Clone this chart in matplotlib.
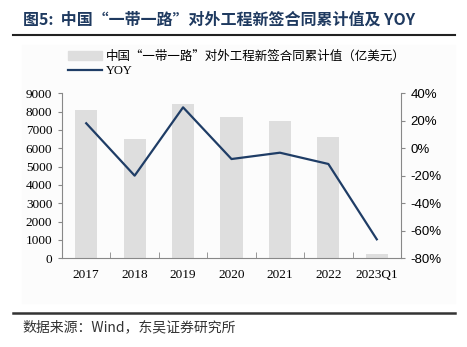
import matplotlib
matplotlib.use("Agg")
import matplotlib.pyplot as plt
import numpy as np
from matplotlib.lines import Line2D
from matplotlib.patches import Patch
from matplotlib.ticker import FixedLocator, FuncFormatter

plt.rcParams['font.family'] = ['Liberation Serif', 'Noto Sans CJK SC', 'DejaVu Sans']

years = ["2017", "2018", "2019", "2020", "2021", "2022", "2023Q1"]
contract_value = [8090, 6490, 8400, 7725, 7490, 6635, 220]
yoy = [18.2, -19.9, 29.8, -7.8, -3.2, -11.4, -66.2]

title = "图5:  中国“一带一路”对外工程新签合同累计值及 YOY"
bar_label = "中国“一带一路”对外工程新签合同累计值（亿美元）"
line_label = "YOY"
source = "数据来源：Wind，东吴证券研究所"

W, H = 467, 347
fig = plt.figure(figsize=(W / 100, H / 100), dpi=100)

# faint panel behind the chart
panel = plt.Rectangle((22 / W, 1 - 303 / H), 433 / W, 258 / H,
                      transform=fig.transFigure, color="#fcfcfc", zorder=-10)
fig.add_artist(panel)

ax = fig.add_axes([62 / W, 1 - 258.3 / H, (401 - 62) / W, (258.3 - 93.3) / H])
ax.patch.set_alpha(0)
x = np.arange(len(years))
ax.bar(x, contract_value, width=0.46, color="#dedede", zorder=1)
ax.set_xlim(-0.5, len(years) - 0.5)
ax.set_ylim(0, 9000)
ax.set_yticks(np.arange(0, 9001, 1000))
ax.set_xticks(x)
ax.set_xticklabels(years)
ax.xaxis.set_minor_locator(FixedLocator(np.arange(0.5, len(years) - 1, 1)))
ax.tick_params(axis="x", which="major", length=0, pad=8, labelsize=9.5)
ax.tick_params(axis="x", which="minor", direction="in", length=4, color="#888888")
ax.tick_params(axis="y", length=3, color="#888888", labelsize=9.5, pad=4)
for s in ["top", "right"]:
    ax.spines[s].set_visible(False)
for s in ["left", "bottom"]:
    ax.spines[s].set_color("#888888")

ax2 = ax.twinx()
ax2.plot(x, yoy, color="#1f3d66", linewidth=1.6, zorder=3)
ax2.set_ylim(-80, 40)
ax2.set_yticks(np.arange(-80, 41, 20))
ax2.yaxis.set_major_formatter(FuncFormatter(lambda v, p: f"{v:.0f}%"))
for lab in ax2.get_yticklabels():
    lab.set_family("Liberation Sans")
ax2.tick_params(axis="y", length=3, color="#888888", labelsize=9.5, pad=4)
for s in ["top", "left", "bottom"]:
    ax2.spines[s].set_visible(False)
ax2.spines["right"].set_color("#888888")

handles = [Patch(color="#dedede"), Line2D([0], [0], color="#1f3d66", linewidth=1.6)]
leg = fig.legend(handles, [bar_label, line_label], loc="upper left",
                 bbox_to_anchor=(68 / W, 1 - 50 / H), frameon=False, fontsize=9,
                 handlelength=2.7, handleheight=0.7, handletextpad=0.35, labelspacing=0.2,
                 borderaxespad=0, borderpad=0)
# fullwidth quotes come from the CJK font
leg.get_texts()[0].set_family(["Noto Sans CJK SC", "DejaVu Sans"])

fig.text(23 / W, 1 - 20 / H, title, fontsize=11.5, fontweight="bold", color="#1f3a60",
         family=["Noto Sans CJK SC", "DejaVu Sans"], va="center", ha="left")
fig.add_artist(Line2D([13 / W, 455 / W], [1 - 35 / H, 1 - 35 / H], color="#222222", linewidth=1.5))
fig.add_artist(Line2D([13 / W, 455 / W], [1 - 313 / H, 1 - 313 / H], color="#333333", linewidth=1.8))
fig.text(22 / W, 1 - 327 / H, source, fontsize=10, color="#333333",
         family=["Noto Sans CJK SC", "DejaVu Sans"], va="center", ha="left")

fig.savefig("out.png", dpi=100)
